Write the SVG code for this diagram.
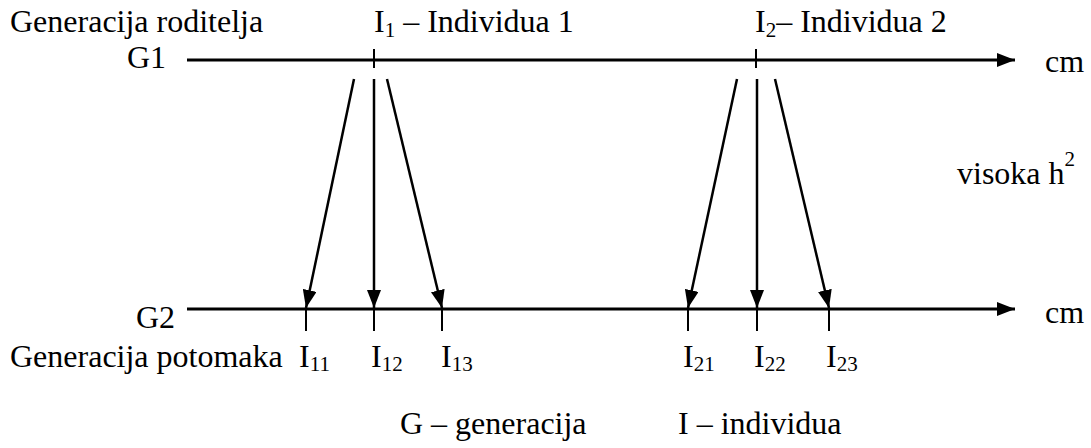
<svg xmlns="http://www.w3.org/2000/svg" width="1091" height="448" viewBox="0 0 1091 448">
<style>
text{font-family:"Liberation Serif","Times New Roman",serif;font-size:32px;fill:#000}
.sub{font-size:21px}
.ax{stroke:#000;stroke-width:3;fill:none}
.tk{stroke:#000;stroke-width:2;fill:none}
.ar{stroke:#000;stroke-width:2.5;fill:none}
</style>
<defs>
<marker id="ah" viewBox="0 0 18 14" refX="18" refY="7" markerWidth="18" markerHeight="14" markerUnits="userSpaceOnUse" orient="auto">
<path d="M0,0 L18,7 L0,14 Z" fill="#000"/>
</marker>
</defs>
<rect width="1091" height="448" fill="#fff"/>
<g id="labels">
<text x="10" y="32">Generacija roditelja</text>
<text x="127" y="68">G1</text>
<text x="1045" y="72">cm</text>
<text x="957" y="184">visoka h<tspan font-size="21" dy="-18">2</tspan></text>
<text x="136" y="328">G2</text>
<text x="1045" y="323">cm</text>
<text x="10" y="367">Generacija potomaka</text>
<text x="400" y="434">G – generacija</text>
<text x="678" y="434">I – individua</text>
</g>
<g id="axis-g1">
<line class="ax" x1="187" y1="60" x2="1015" y2="60" marker-end="url(#ah)"/>
</g>
<g id="axis-g2">
<line class="ax" x1="187" y1="309" x2="1015" y2="309" marker-end="url(#ah)"/>
</g>
<g id="I1">
<line class="tk" x1="374" y1="49" x2="374" y2="68"/>
<text x="374" y="32">I<tspan class="sub" dy="5">1</tspan><tspan dy="-5"> – Individua 1</tspan></text>
</g>
<g id="I2">
<line class="tk" x1="756" y1="49" x2="756" y2="68"/>
<text x="755" y="32">I<tspan class="sub" dy="5">2</tspan><tspan dy="-5">– Individua 2</tspan></text>
</g>
<g id="I11"><line class="tk" x1="306" y1="309" x2="306" y2="331"/><text x="299" y="367">I<tspan class="sub" dy="4">11</tspan></text></g>
<g id="I12"><line class="tk" x1="374" y1="309" x2="374" y2="331"/><text x="371" y="367">I<tspan class="sub" dy="4">12</tspan></text></g>
<g id="I13"><line class="tk" x1="442" y1="309" x2="442" y2="331"/><text x="441" y="367">I<tspan class="sub" dy="4">13</tspan></text></g>
<g id="I21"><line class="tk" x1="688" y1="309" x2="688" y2="331"/><text x="683" y="367">I<tspan class="sub" dy="4">21</tspan></text></g>
<g id="I22"><line class="tk" x1="757" y1="309" x2="757" y2="331"/><text x="754" y="367">I<tspan class="sub" dy="4">22</tspan></text></g>
<g id="I23"><line class="tk" x1="829" y1="309" x2="829" y2="331"/><text x="826" y="367">I<tspan class="sub" dy="4">23</tspan></text></g>
<g id="connectors">
<line class="ar" x1="354" y1="79" x2="306" y2="308" marker-end="url(#ah)"/>
<line class="ar" x1="374" y1="79" x2="374" y2="308" marker-end="url(#ah)"/>
<line class="ar" x1="387" y1="79" x2="442" y2="308" marker-end="url(#ah)"/>
<line class="ar" x1="737" y1="79" x2="688" y2="308" marker-end="url(#ah)"/>
<line class="ar" x1="757" y1="79" x2="757" y2="308" marker-end="url(#ah)"/>
<line class="ar" x1="775" y1="79" x2="829" y2="308" marker-end="url(#ah)"/>
</g>
</svg>
